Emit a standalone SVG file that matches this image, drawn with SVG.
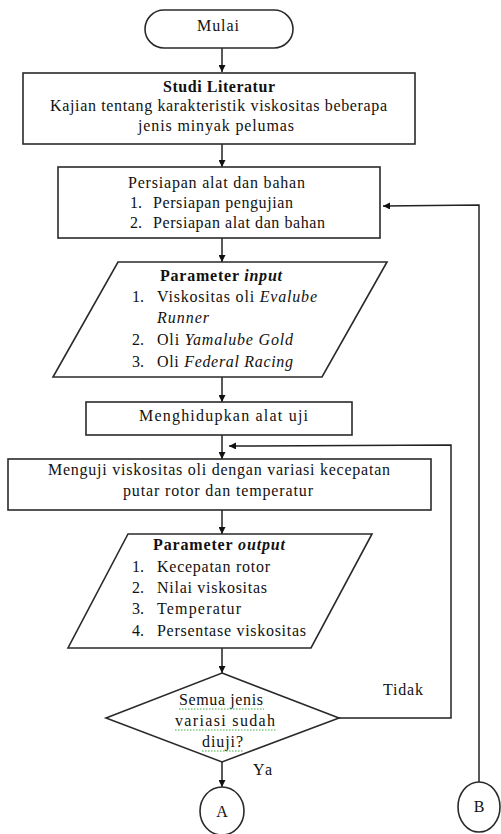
<svg xmlns="http://www.w3.org/2000/svg" width="501" height="834" viewBox="0 0 501 834">
<defs>
<marker id="ah" viewBox="0 0 10 10" refX="10" refY="5" markerWidth="7" markerHeight="7" markerUnits="userSpaceOnUse" orient="auto">
<path d="M0,0 L10,5 L0,10 z" fill="#111"/>
</marker>
<style>
.s{fill:#fff;stroke:#2a2a2a;stroke-width:1.6}
.c{fill:none;stroke:#222;stroke-width:1.5}
text{font-family:"Liberation Serif","Times New Roman",serif;font-size:16px;fill:#111}
.b{font-weight:bold}
.i{font-style:italic}
.m{text-anchor:middle}
.w{fill:none;stroke:#3cb043;stroke-width:1;stroke-dasharray:1.5 1.5}
</style>
</defs>
<rect width="501" height="834" fill="#fff"/>
<g id="connectors">
<line class="c" x1="222" y1="48" x2="222" y2="72" marker-end="url(#ah)"/>
<line class="c" x1="222" y1="144" x2="222" y2="167" marker-end="url(#ah)"/>
<line class="c" x1="222" y1="238" x2="222" y2="262" marker-end="url(#ah)"/>
<line class="c" x1="222" y1="377" x2="222" y2="402" marker-end="url(#ah)"/>
<line class="c" x1="222" y1="435" x2="222" y2="459" marker-end="url(#ah)"/>
<line class="c" x1="222" y1="510" x2="222" y2="534" marker-end="url(#ah)"/>
<line class="c" x1="222" y1="648" x2="222" y2="673" marker-end="url(#ah)"/>
<line class="c" x1="222" y1="762" x2="222" y2="787" marker-end="url(#ah)"/>
<polyline class="c" points="339,718 451,718 451,445 229,446" marker-end="url(#ah)"/>
<polyline class="c" points="479,782 479,205 383,206" marker-end="url(#ah)"/>
</g>
<g id="mulai">
<rect class="s" x="145" y="10" width="148" height="38" rx="19" ry="19"/>
<text x="197" y="31" textLength="42" lengthAdjust="spacing">Mulai</text>
</g>
<g id="studi-literatur">
<rect class="s" x="23" y="73" width="392" height="71"/>
<text class="b" x="163" y="92" textLength="112" lengthAdjust="spacing">Studi Literatur</text>
<text x="50" y="111" textLength="337" lengthAdjust="spacing">Kajian tentang karakteristik viskositas beberapa</text>
<text x="138" y="131" textLength="156" lengthAdjust="spacing">jenis minyak pelumas</text>
</g>
<g id="persiapan">
<rect class="s" x="58" y="167" width="322" height="71"/>
<text x="128" y="188" textLength="177" lengthAdjust="spacing">Persiapan alat dan bahan</text>
<text x="130" y="208">1.</text>
<text x="153" y="208" textLength="140" lengthAdjust="spacing">Persiapan pengujian</text>
<text x="130" y="228">2.</text>
<text x="153" y="228" textLength="172" lengthAdjust="spacing">Persiapan alat dan bahan</text>
</g>
<g id="parameter-input">
<polygon class="s" points="118,262 387,262 322,377 53,377"/>
<text class="b" x="160" y="281" textLength="122" lengthAdjust="spacing">Parameter <tspan class="i">input</tspan></text>
<text x="132" y="302">1.</text>
<text x="157" y="302" textLength="160" lengthAdjust="spacing">Viskositas oli <tspan class="i">Evalube</tspan></text>
<text class="i" x="157" y="323" textLength="52" lengthAdjust="spacing">Runner</text>
<text x="132" y="345">2.</text>
<text x="157" y="345" textLength="136" lengthAdjust="spacing">Oli <tspan class="i">Yamalube Gold</tspan></text>
<text x="132" y="367">3.</text>
<text x="157" y="367" textLength="136" lengthAdjust="spacing">Oli <tspan class="i">Federal Racing</tspan></text>
</g>
<g id="menghidupkan">
<rect class="s" x="86" y="402" width="266" height="33"/>
<text x="139" y="421" textLength="169" lengthAdjust="spacing">Menghidupkan alat uji</text>
</g>
<g id="menguji">
<rect class="s" x="8" y="459" width="423" height="51"/>
<text x="48" y="475" textLength="342" lengthAdjust="spacing">Menguji viskositas oli dengan variasi kecepatan</text>
<text x="123" y="496" textLength="190" lengthAdjust="spacing">putar rotor dan temperatur</text>
</g>
<g id="parameter-output">
<polygon class="s" points="128,534 372,534 311,648 68,648"/>
<text class="b" x="153" y="550" textLength="132" lengthAdjust="spacing">Parameter <tspan class="i">output</tspan></text>
<text x="132" y="572">1.</text>
<text x="157" y="572" textLength="113" lengthAdjust="spacing">Kecepatan rotor</text>
<text x="132" y="593">2.</text>
<text x="157" y="593" textLength="110" lengthAdjust="spacing">Nilai viskositas</text>
<text x="132" y="614">3.</text>
<text x="157" y="614" textLength="84" lengthAdjust="spacing">Temperatur</text>
<text x="132" y="636">4.</text>
<text x="157" y="636" textLength="149" lengthAdjust="spacing">Persentase viskositas</text>
</g>
<g id="keputusan">
<polygon class="s" points="222,673 339,718 222,762 106,718"/>
<text x="179" y="705" textLength="84" lengthAdjust="spacing">Semua jenis</text>
<text x="175" y="726" textLength="100" lengthAdjust="spacing">variasi sudah</text>
<text x="202" y="747" textLength="41" lengthAdjust="spacing">diuji?</text>
<line class="w" x1="179" y1="709" x2="264" y2="709"/>
<line class="w" x1="175" y1="730" x2="276" y2="730"/>
<line class="w" x1="202" y1="751" x2="244" y2="751"/>
</g>
<g id="label-tidak">
<text x="383" y="695" textLength="40" lengthAdjust="spacing">Tidak</text>
</g>
<g id="label-ya">
<text x="253" y="775" textLength="19" lengthAdjust="spacing">Ya</text>
</g>
<g id="konektor-a">
<ellipse class="s" cx="222" cy="811" rx="22" ry="24"/>
<text class="m" x="222" y="817">A</text>
</g>
<g id="konektor-b">
<ellipse class="s" cx="479" cy="807" rx="21" ry="25"/>
<text class="m" x="479" y="812">B</text>
</g>
</svg>
